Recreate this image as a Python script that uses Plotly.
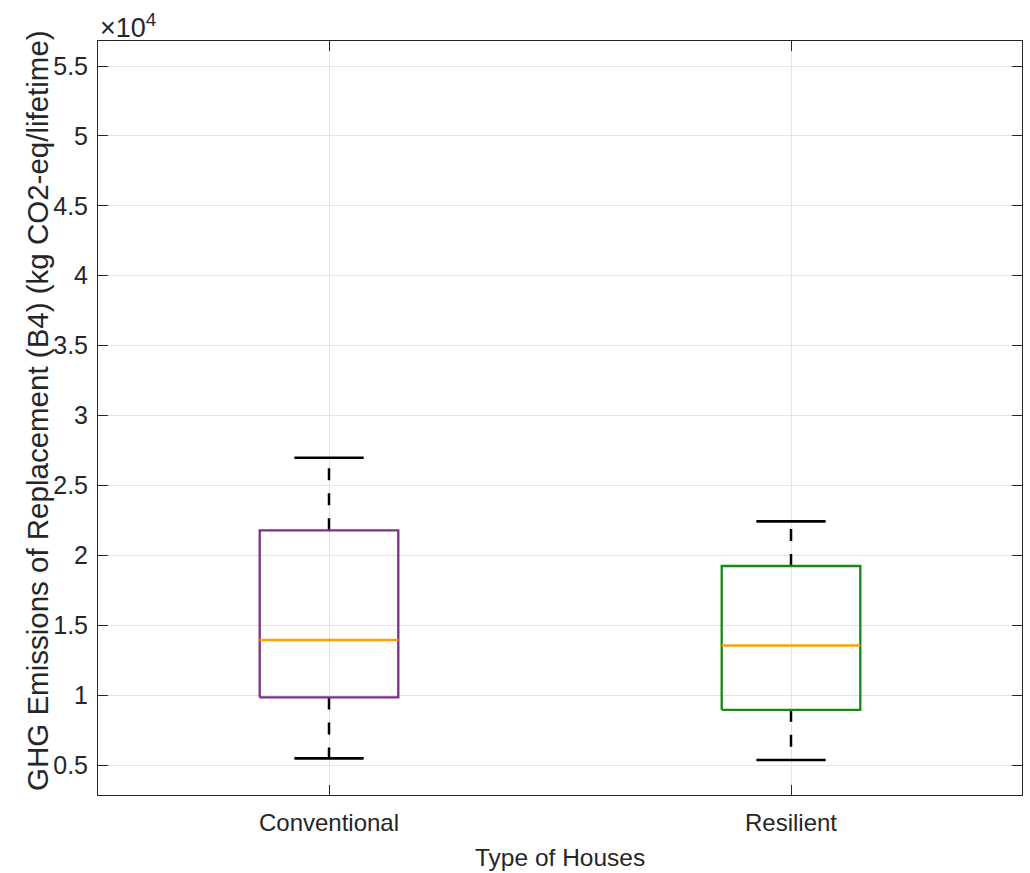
import plotly.graph_objects as go

categories = ["Conventional", "Resilient"]
lower_whisker = [5480, 5360]
q1 = [9840, 8950]
median = [13950, 13550]
q3 = [21790, 19240]
upper_whisker = [26980, 22430]
box_colors = ["#7E2F8E", "#138A13"]
median_color = "#FFA000"

y_tickvals = [5000, 10000, 15000, 20000, 25000, 30000, 35000, 40000, 45000, 50000, 55000]
y_ticktext = ["0.5", "1", "1.5", "2", "2.5", "3", "3.5", "4", "4.5", "5", "5.5"]

x_title = "Type of Houses"
y_title = "GHG Emissions of Replacement (B4) (kg CO2-eq/lifetime)"

axis_col = "#262626"
font_family = "Liberation Sans, Arial, sans-serif"

fig = go.Figure()
box_half = 0.15
cap_half = 0.075

for i, cat in enumerate(categories):
    c = i + 1
    fig.add_trace(go.Scatter(x=[c, c], y=[q3[i], upper_whisker[i]], mode="lines",
                             line=dict(color="black", width=2.5, dash="12px,13px"),
                             showlegend=False, hoverinfo="skip"))
    fig.add_trace(go.Scatter(x=[c, c], y=[q1[i], lower_whisker[i]], mode="lines",
                             line=dict(color="black", width=2.5, dash="12px,13px"),
                             showlegend=False, hoverinfo="skip"))
    for v in (upper_whisker[i], lower_whisker[i]):
        fig.add_trace(go.Scatter(x=[c - cap_half, c + cap_half], y=[v, v], mode="lines",
                                 line=dict(color="black", width=2.6),
                                 showlegend=False, hoverinfo="skip"))
    fig.add_trace(go.Scatter(
        x=[c - box_half, c + box_half, c + box_half, c - box_half, c - box_half],
        y=[q1[i], q1[i], q3[i], q3[i], q1[i]], mode="lines",
        line=dict(color=box_colors[i], width=2.3),
        name=cat, showlegend=False))
    fig.add_trace(go.Scatter(x=[c - box_half, c + box_half], y=[median[i], median[i]], mode="lines",
                             line=dict(color=median_color, width=2.6),
                             showlegend=False, hoverinfo="skip"))

fig.update_layout(
    width=1030, height=873,
    margin=dict(l=98, r=8, t=41, b=78),
    plot_bgcolor="white", paper_bgcolor="white",
    font=dict(family=font_family, color=axis_col, size=22),
    xaxis=dict(
        range=[0.5, 2.5], tickvals=[1, 2], ticktext=categories,
        showgrid=True, gridcolor="#e3e3e3", gridwidth=1,
        showline=True, linecolor=axis_col, linewidth=1, mirror="ticks",
        ticks="inside", ticklen=10, tickcolor=axis_col,
        tickfont=dict(size=24, color=axis_col), ticklabelstandoff=6,
        automargin=False, zeroline=False,
    ),
    yaxis=dict(
        range=[2860, 56790], tickvals=y_tickvals, ticktext=y_ticktext,
        showgrid=True, gridcolor="#e3e3e3", gridwidth=1,
        showline=True, linecolor=axis_col, linewidth=1, mirror="ticks",
        ticks="inside", ticklen=10, tickcolor=axis_col,
        tickfont=dict(size=25, color=axis_col), ticklabelstandoff=4,
        automargin=False, zeroline=False,
    ),
    annotations=[
        dict(text="×10<sup>4</sup>", xref="paper", yref="paper", x=0, y=1,
             xanchor="left", yanchor="bottom", showarrow=False, yshift=-4, xshift=0,
             font=dict(size=27, color=axis_col, family=font_family)),
        dict(text=x_title, xref="paper", yref="paper", x=0.5, y=0,
             xanchor="center", yanchor="middle", showarrow=False, yshift=-62,
             font=dict(size=24.5, color=axis_col, family=font_family)),
        dict(text=y_title, xref="paper", yref="paper", x=0, y=0.5, textangle=-90,
             xanchor="center", yanchor="middle", showarrow=False, xshift=-61, yshift=7,
             font=dict(size=29.5, color=axis_col, family=font_family)),
    ],
)

fig.write_html("out.html")
